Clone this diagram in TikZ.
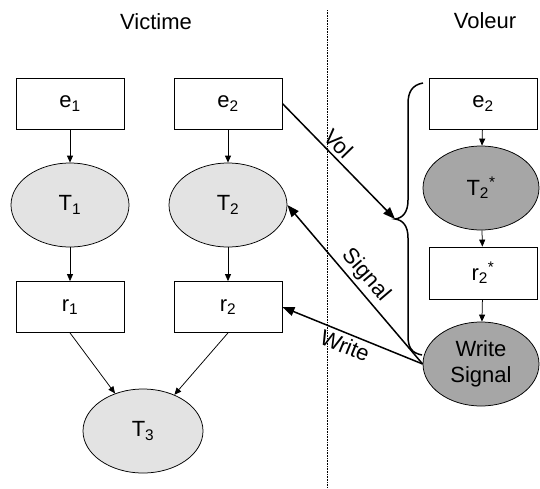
\documentclass[tikz,border=0pt]{standalone}
\usepackage{fontspec}
\setmainfont{Liberation Sans}
\usetikzlibrary{shapes.geometric,arrows.meta}
\definecolor{lightg}{HTML}{E3E3E3}
\definecolor{darkg}{HTML}{A6A6A6}
\begin{document}
\begin{tikzpicture}[x=1pt,y=-1pt,
  every node/.style={font=\fontsize{22}{26}\selectfont},
  box/.style={draw, line width=0.75pt, minimum width=108pt, minimum height=51pt, inner sep=0pt},
  lell/.style={ellipse, draw, line width=0.75pt, fill=lightg, minimum width=118pt, minimum height=84pt, inner sep=0pt},
  dell/.style={ellipse, draw, line width=0.75pt, fill=darkg, minimum width=116pt, minimum height=84pt, inner sep=0pt, align=center},
  sarr/.style={-{Triangle[length=7pt,width=6pt]}, line width=0.75pt},
  barr/.style={-{Triangle[length=12pt,width=9pt]}, line width=1.5pt},
  title/.style={inner sep=0pt}
]
\useasboundingbox (0,0) rectangle (540,488);
% titles
\node[title] (vic) at (156,22) {Victime};
\node[title] (vol) at (485,21) {Voleur};
% separator
\coordinate (sepT) at (327,10);
\coordinate (sepB) at (327,488);
\draw[line width=0.6pt, dash pattern=on 0.8pt off 0.8pt] (sepT) -- (sepB);
% victim nodes
\node[box] (e1) at (70,103.5) {e\textsubscript{1}};
\node[box] (e2) at (228,103.5) {e\textsubscript{2}};
\node[lell] (T1) at (70,205) {T\textsubscript{1}};
\node[lell] (T2) at (228,205) {T\textsubscript{2}};
\node[box] (r1) at (70,307) {r\textsubscript{1}};
\node[box] (r2) at (228,307) {r\textsubscript{2}};
\node[lell, minimum width=120pt] (T3) at (143,431) {T\textsubscript{3}};
% thief nodes
\node[box] (e2s) at (483,103.5) {e\textsubscript{2}};
\node[dell] (T2s) at (481,188) {T\textsubscript{2}\textsuperscript{*}};
\node[box, minimum height=52pt] (r2s) at (483,273) {r\textsubscript{2}\textsuperscript{*}};
\node[dell] (WS) at (481,364) {Write\\Signal};
% small arrows
\draw[sarr] (e1) -- (T1);
\draw[sarr] (T1) -- (r1);
\draw[sarr] (r1.south) -- (T3);
\draw[sarr] (r2.south) -- (T3);
\draw[sarr] (e2) -- (T2);
\draw[sarr] (T2) -- (r2);
\draw[sarr] (e2s) -- (T2s);
\draw[sarr] (T2s) -- (r2s);
\draw[sarr] (r2s) -- (WS);
% brace
\coordinate (bt) at (423,83);
\coordinate (tip) at (395,219);
\coordinate (bb) at (422,355);
\draw[line width=1.5pt] (bt) .. controls (412,85) and (408,92) .. (408,104) -- (408,200)
  .. controls (408,212) and (403,218) .. (tip)
  .. controls (403,220) and (408,226) .. (408,238) -- (408,336)
  .. controls (408,348) and (412,353) .. (bb);
% big arrows
\draw[barr] (e2.east) -- node[sloped, above, pos=0.42] {Vol} (tip);
\draw[barr] (WS.west) -- node[sloped, above, pos=0.5] {Signal} (T2.east);
\draw[barr] (WS.west) -- node[sloped, below, pos=0.52] {Write} (r2.east);
\end{tikzpicture}
\end{document}
